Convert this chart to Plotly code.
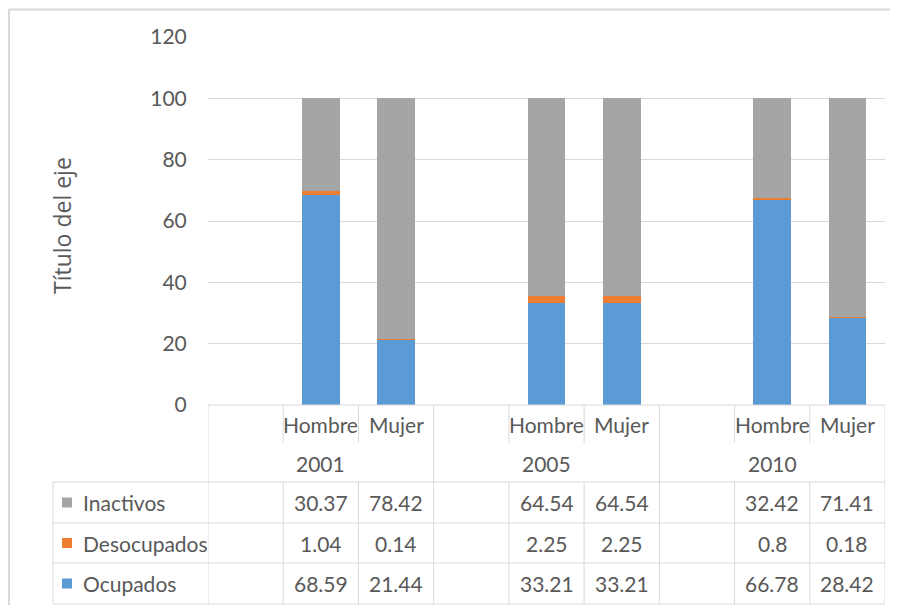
import plotly.graph_objects as go

# ---- data ----
years = ["2001", "2005", "2010"]
sexes = ["Hombre", "Mujer"]
series_names = ["Inactivos", "Desocupados", "Ocupados"]
ocupados = [68.59, 21.44, 33.21, 33.21, 66.78, 28.42]
desocupados = [1.04, 0.14, 2.25, 2.25, 0.8, 0.18]
inactivos = [30.37, 78.42, 64.54, 64.54, 32.42, 71.41]
y_ticks = [0, 20, 40, 60, 80, 100, 120]
axis_title = "Título del eje"

# figure size chosen so the page (with default body margin) fits the 898x613 window
OFF = 8
W, H = 898 - 2 * OFF, 613 - 2 * OFF
FONT = "Lato, Carlito, sans-serif"
TFONT = "'Open Sans', sans-serif"
TXT = "#595959"
GRID = "#D9D9D9"
FS = 21
colors = {"Ocupados": "#5B9BD5", "Desocupados": "#ED7D31", "Inactivos": "#A5A5A5"}

def X(px):
    return (px - OFF) / W

def Y(py):
    return 1 - (py - OFF) / H

# slots: each year group = [blank, Hombre, Mujer]
xpos = []
for g in range(len(years)):
    for s in range(len(sexes)):
        xpos.append(3 * g + 1 + s)

fig = go.Figure()
for name, vals in [("Ocupados", ocupados), ("Desocupados", desocupados), ("Inactivos", inactivos)]:
    fig.add_trace(go.Bar(x=xpos, y=vals, name=name, width=0.5,
                         marker=dict(color=colors[name], line=dict(width=0))))

shapes = []
annotations = []

def vline(xd, y0, y1):
    shapes.append(dict(type="line", xref="x", yref="paper", x0=xd, x1=xd,
                       y0=Y(y0), y1=Y(y1), line=dict(color=GRID, width=1)))

def hline(py, px0, px1):
    shapes.append(dict(type="line", xref="paper", yref="paper", x0=X(px0), x1=X(px1),
                       y0=Y(py), y1=Y(py), line=dict(color=GRID, width=1)))

top, hdr, yr = 405, 443, 482
rows = [482, 523, 563, 604]
nslots = 3 * len(years)
for k in range(nslots + 1):
    xd = -0.5 + k
    if k % 3 == 0:
        vline(xd, top, rows[-1])
    else:
        vline(xd, top, hdr)
        vline(xd, yr, rows[-1])
hline(top, 208, 885)
for r in rows:
    hline(r, 53, 885)
shapes.append(dict(type="line", xref="paper", yref="paper", x0=X(53), x1=X(53),
                   y0=Y(rows[0]), y1=Y(rows[-1]), line=dict(color=GRID, width=1)))

# chart border (left & top edges visible)
shapes.append(dict(type="line", xref="paper", yref="paper", x0=X(9), x1=X(9),
                   y0=Y(9), y1=Y(620), line=dict(color="#D9D9D9", width=2)))
shapes.append(dict(type="line", xref="paper", yref="paper", x0=X(9), x1=X(900),
                   y0=Y(9.5), y1=Y(9.5), line=dict(color="#D9D9D9", width=2)))

def txt(x, y, text, xref="x", xanchor="center", size=FS, family=FONT, **kw):
    annotations.append(dict(x=x, y=y, xref=xref, yref="paper", text=text,
                            xanchor=xanchor, yanchor="middle", showarrow=False,
                            font=dict(size=size, color=TXT, family=family), **kw))

# header labels
for i, xp in enumerate(xpos):
    txt(xp, Y(424), sexes[i % 2])
for g, yv in enumerate(years):
    txt(3 * g + 1, Y(463), yv)

table = {"Inactivos": inactivos, "Desocupados": desocupados, "Ocupados": ocupados}
for ri, name in enumerate(series_names):
    cy = (rows[ri] + rows[ri + 1]) / 2
    shapes.append(dict(type="rect", xref="paper", yref="paper", x0=X(62), x1=X(72),
                       y0=Y(cy + 5), y1=Y(cy - 5), fillcolor=colors[name], line=dict(width=0)))
    txt(X(81), Y(cy), name, xref="paper", xanchor="left")
    for i, xp in enumerate(xpos):
        txt(xp, Y(cy), f"{table[name][i]:g}")

txt(X(62), Y(226), axis_title, xref="paper", size=23, family=TFONT, textangle=-90)

fig.update_layout(
    width=W, height=H,
    margin=dict(l=0, r=0, t=0, b=0, pad=0, autoexpand=False),
    barmode="stack", showlegend=False,
    paper_bgcolor="white", plot_bgcolor="white",
    font=dict(family=FONT, color=TXT, size=FS),
    xaxis=dict(domain=[X(208), X(885)], range=[-0.5, nslots - 0.5], automargin=False,
               showticklabels=False, showgrid=False, zeroline=False, showline=False),
    yaxis=dict(domain=[Y(405), Y(37)], range=[0, 120], tickvals=y_ticks, automargin=False,
               showgrid=True, gridcolor=GRID, gridwidth=1, zeroline=False,
               showline=False, ticks="outside", ticklen=16, tickcolor="rgba(0,0,0,0)",
               tickfont=dict(size=FS, color=TXT, family=FONT)),
    shapes=shapes, annotations=annotations,
)
fig.write_html("out.html")
